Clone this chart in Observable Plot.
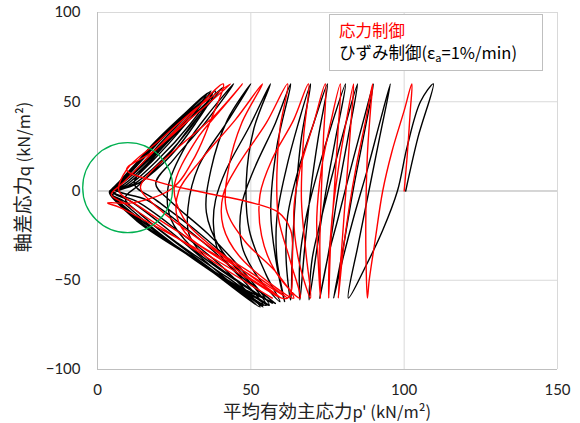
<!DOCTYPE html>
<html><head><meta charset="utf-8">
<script src="https://cdn.jsdelivr.net/npm/d3@7"></script>
<script src="https://cdn.jsdelivr.net/npm/@observablehq/plot@0.6"></script>
<style>
body{margin:0;background:#fff;}
#wrap{position:relative;width:580px;height:423px;overflow:hidden;}
.jp{font-family:"Noto Sans CJK JP","Noto Sans",sans-serif;position:absolute;white-space:nowrap;}
.legend{left:329px;top:14px;width:214px;height:57px;border:1px solid #bfbfbf;background:#fff;box-sizing:border-box;font-size:16.5px;line-height:22px;padding:4px 0 0 9px;}
.xt{left:0;width:654px;top:401px;line-height:19px;text-align:center;font-size:18.5px;color:#222;}
.xt .l{font-size:16.5px;}
.yt{left:22px;top:177px;line-height:1;transform:translate(-50%,-50%) rotate(-90deg);font-size:19px;color:#222;}
.yt .l{font-size:16.5px;}
</style></head>
<body><div id="wrap"></div>
<script>
const xTicks = [0, 50, 100, 150];
const yTicks = [-100, -50, 0, 50, 100];
const legendLabels = ["応力制御", "ひずみ制御"];
const circleCenter = [[9.85, 1.85]];

// 応力制御 (stress controlled) stress path [p', q]
const redPath = [
  [100,0],[101,20],[102,45],[102.5,60],
  [100,45],[96,22],[93,0],[90.5,-28],[88.6,-50],[88,-60],
  [87.6,-42],[87.5,-15],[88,20],[89,45],[89.7,60],
  [87.5,40],[84.5,15],[82,-10],[80,-35],[78.5,-60],
  [79.5,-35],[81,0],[82.5,35],[83.5,60],
  [81,38],[78.5,12],[76.5,-15],[75.5,-40],[75.4,-60],
  [76,-30],[77.2,0],[78.3,30],[79.2,60],
  [76,38],[73,12],[71.5,-15],[72,-40],[72.7,-60],
  [72.5,-30],[73,0],[73.7,30],[74.3,60],
  [70.5,38],[66,12],[64,-12],[65.5,-38],[69.5,-60],
  [68,-35],[66.5,-5],[67.2,30],[68.8,60],
  [64,40],[57,18],[53,-2],[53.5,-25],[58,-45],[66,-60],
  [63,-40],[59,-15],[58.5,10],[59.5,35],[62,60],
  [55,38],[46,15],[41,-2],[41,-20],[47,-38],[64,-60],
  [58,-45],[48,-28],[42,-10],[43,15],[47,38],[53.8,60],
  [45,40],[34,18],[26.5,0],[26,-15],[30,-26],[45,-42],[62,-60],
  [52,-48],[38,-32],[28,-15],[25,2],[32,28],[40,45],[47.3,60],
  [38,42],[26,24],[17,10],[14,2],[20,-10],[38,-33],[60,-60],
  [48,-47],[30,-27],[14,-9],[7,0],[9.5,12],[20,28],[32,46],[43.4,60],
  [30,40],[18,22],[9.5,12],[20,5],[35,-1],[49,-6],[59,-12],[63,-22],[63.5,-40],[62,-60],
  [50,-50],[33,-33],[16,-17],[7,-9],[3.3,-6.7],[11.7,-6.5],[24.5,1.7],[32,20],[37,40],[41,60],
  [29,40],[16,18],[8,4],[4.5,-2],[10,-8],[24,-24],[40,-42],[57,-60]
];

// ひずみ制御 (strain controlled) stress path [p', q]
const blackPath = [
  [100.5,0],[104.5,30],[109.5,60],[105.3,50],[101,25],[97.8,0],[93,-22],[87.5,-42],[81.8,-60],
  [85,-30],[88.5,0],[92,30],[95.5,60],[92,38],[88,12],[83.5,-15],[80,-38],[77,-60],
  [80,-33],[83.3,0],[86.7,30],[90,60],[86.5,38],[82.5,12],[78.5,-15],[75,-38],[72.5,-60],
  [75.5,-33],[78.5,0],[81.7,30],[84.8,60],[81,38],[77,12],[73,-15],[70,-38],[69,-61],
  [71.5,-33],[74.5,0],[77.7,30],[80.9,60],[76.5,38],[72,12],[68,-15],[66,-38],[66,-61],
  [67.5,-33],[69.5,0],[72,30],[75,60],[70.5,38],[65.5,12],[62,-14],[61.5,-38],[63,-61],
  [63.5,-35],[64.5,-5],[66.5,30],[69.5,60],[65.5,38],[61.5,12],[58.5,-15],[58.5,-38],[61,-62],
  [58.5,-42],[56.5,-12],[58.5,25],[63,60],[58,38],[51,12],[47,-8],[47,-30],[51,-45],[59.5,-62],
  [55,-47],[49.5,-22],[48.5,5],[51,35],[56.4,60],[49.5,36],[42,12],[38.5,-5],[37.8,-18.5],[39.5,-34],[47,-48],[58,-63],
  [49,-50],[40,-32],[35.5,-12],[37,12],[42.4,40],[50,60],[42,38],[33,14],[29.5,-9.5],[30,-25],[36,-38],[57,-63],
  [45,-50],[31,-32],[24,-16],[23,2],[29,26],[37,45],[44.4,60],[35,38],[25,18],[19,4],[24,-6],[36,-24],[47,-44],[56,-64],
  [42,-48],[26,-29],[14,-13],[9,-4],[14,4],[24,22],[32,40],[40.8,58],[30,40],[18,18],[12,4],[19,-5],[32,-22],[45,-42],[55,-64],
  [38,-45],[20,-24],[8,-8],[5,-2],[14,5],[24,20],[32,38],[38.5,56],[26,35],[13,12],[6,1],[16,-5],[29,-21],[43,-42],[54,-64],
  [36,-43],[16,-20],[6,-5],[4.5,-1],[12,4],[22,19],[31,37],[37.5,55],[24,33],[11,9],[5,0],[13,-6],[26,-22],[41,-43],[53,-65],
  [34,-41],[14,-18],[5,-3],[4,-1],[10,3],[20,18],[30,37],[37,54],[22,31],[9,7],[4.5,0],[11,-6],[24,-23],[39,-45],[52,-64],
  [35,-42],[13,-17],[4.5,-2],[4,0],[9,3],[18,17],[29,38],[36.5,55],[21,30],[8,6],[4,-1],[9,-6],[21,-23],[38,-45],[54,-65],
  [36,-43],[12,-15],[4,-1.5],[4,0],[8,3],[16,15],[27,36],[36,55],[20,29],[7,5],[4,-1],[8,-6],[19,-22],[38,-46],[56,-64],
  [37,-44],[11,-14],[4,-1],[4,0],[7,3],[14,13],[26,34],[37,56],[19,28],[7,4],[4,-1],[7,-6],[17,-20],[40,-48],[58,-63]
];

const chart = Plot.plot({
  width: 580, height: 423,
  marginLeft: 97, marginRight: 23, marginTop: 12, marginBottom: 54,
  x: {domain: [0, 150], label: null},
  y: {domain: [-100, 100], label: null},
  style: {fontFamily: "Lato, 'Noto Sans', sans-serif", fontSize: "15px", color: "#222", background: "#fff"},
  marks: [
    Plot.gridX(xTicks, {stroke: "#d9d9d9", strokeOpacity: 1}),
    Plot.gridY(yTicks, {stroke: "#d9d9d9", strokeOpacity: 1}),
    Plot.ruleY([0], {stroke: "#bfbfbf"}),
    Plot.ruleX([0], {stroke: "#bfbfbf"}),
    Plot.ruleY([-100], {stroke: "#bfbfbf"}),
    Plot.axisX(xTicks, {tickSize: 0, tickPadding: 15, label: null}),
    Plot.axisY(yTicks, {tickSize: 0, tickPadding: 17, label: null}),
    Plot.line(blackPath, {x: d => d[0], y: d => d[1], stroke: "#000", strokeWidth: 1.4, curve: "catmull-rom"}),
    Plot.line(redPath, {x: d => d[0], y: d => d[1], stroke: "#ff0000", strokeWidth: 1.4, curve: "catmull-rom"}),
    Plot.dot(circleCenter, {x: d => d[0], y: d => d[1], r: 45, stroke: "#00b050", fill: "none", strokeWidth: 1.3})
  ]
});
const wrap = document.getElementById("wrap");
wrap.appendChild(chart);

const lg = document.createElement("div");
lg.className = "jp legend";
lg.innerHTML = `<div style="color:#ff0000">${legendLabels[0]}</div><div style="color:#000">${legendLabels[1]}(ε<sub style="font-size:11px;vertical-align:-3px;line-height:0">a</sub>=1%/min)</div>`;
wrap.appendChild(lg);

const xt = document.createElement("div");
xt.className = "jp xt";
xt.innerHTML = "平均有効主応力<span class='l'>p' (kN/m²)</span>";
wrap.appendChild(xt);

const yt = document.createElement("div");
yt.className = "jp yt";
yt.innerHTML = "軸差応力<span class='l'>q (kN/m²)</span>";
wrap.appendChild(yt);
</script>
</body></html>
